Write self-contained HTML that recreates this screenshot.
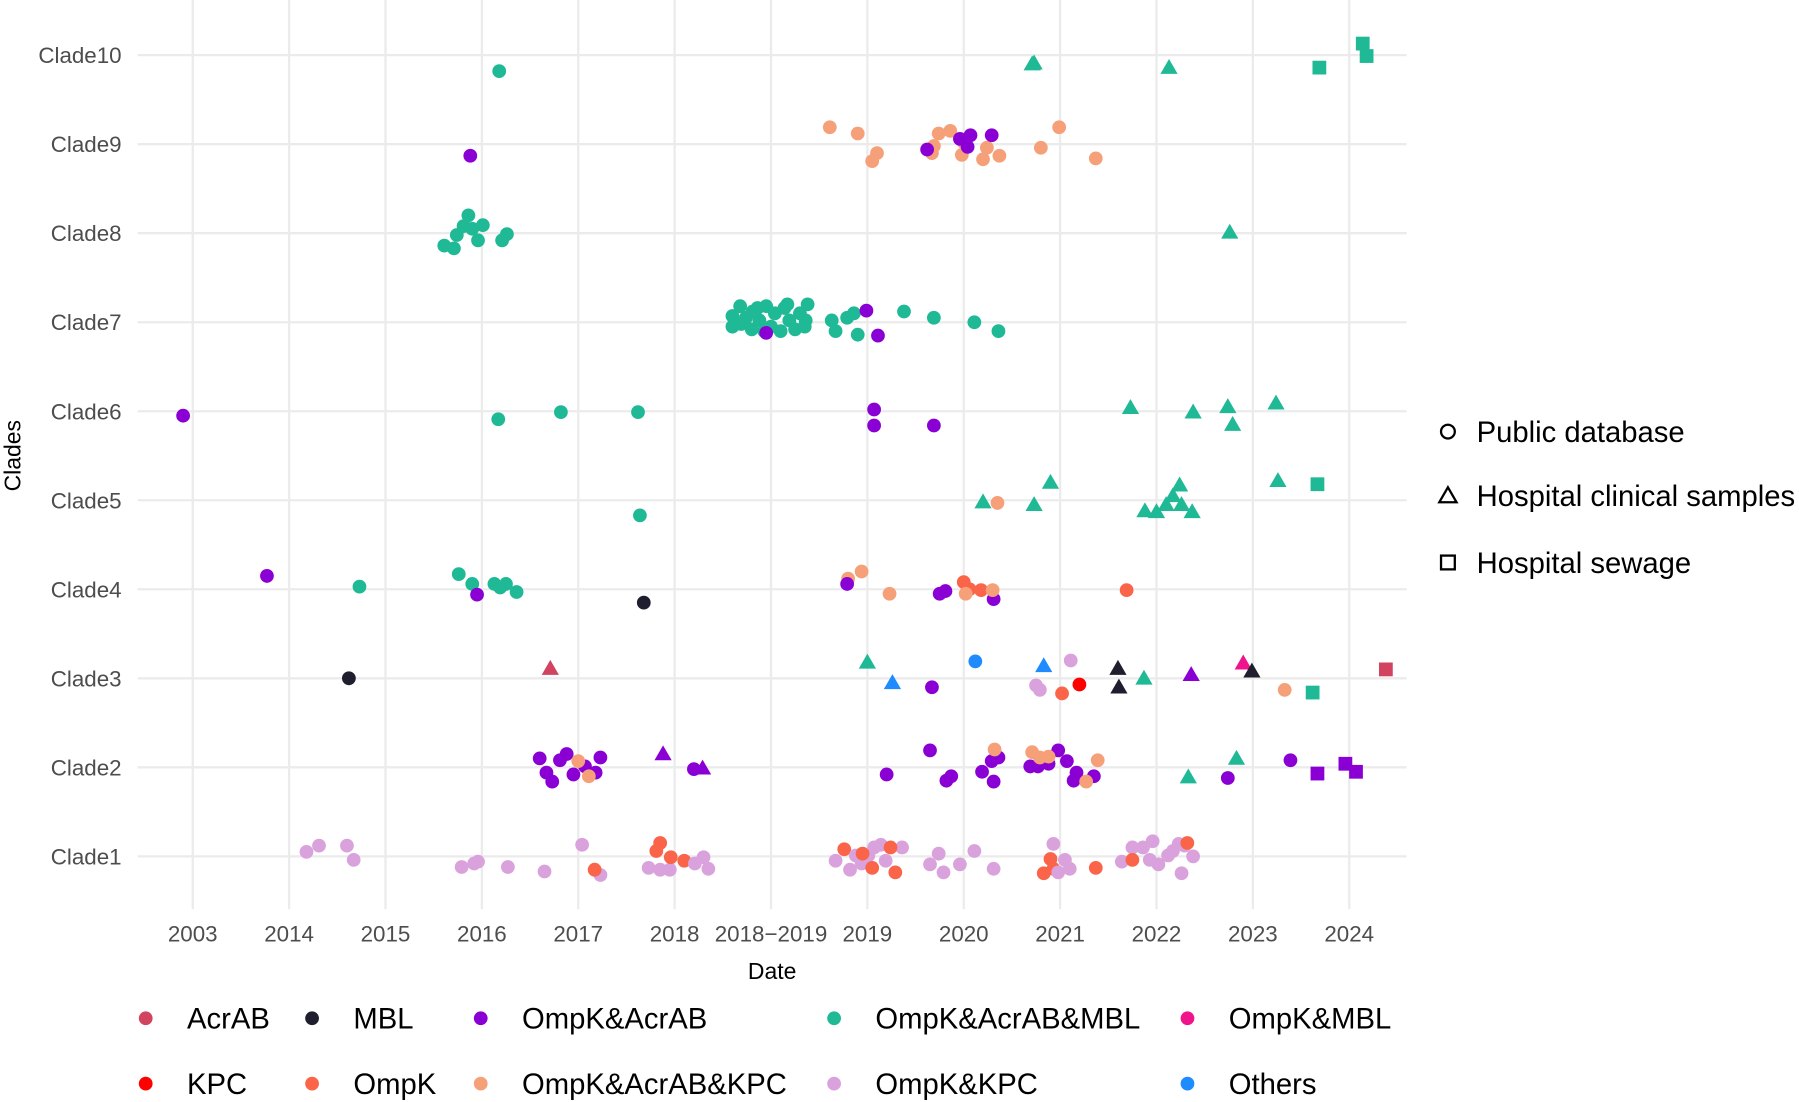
<!DOCTYPE html>
<html><head><meta charset="utf-8"><style>
html,body{margin:0;padding:0;background:#fff;}
svg{display:block;font-family:"Liberation Sans",Arial,sans-serif;}
</style></head><body>
<svg id="chart" width="1799" height="1102" viewBox="0 0 1568 960" preserveAspectRatio="none" xmlns="http://www.w3.org/2000/svg">
<g id="grid"></g>
<g id="axes"></g>
<g id="marks"></g>
<g id="legend"></g>
</svg>
<script>
const categories = ["2003","2014","2015","2016","2017","2018","2018\u22122019","2019","2020","2021","2022","2023","2024"];
const clades = ["Clade1","Clade2","Clade3","Clade4","Clade5","Clade6","Clade7","Clade8","Clade9","Clade10"];
const groupNames = ["AcrAB","MBL","OmpK&AcrAB","OmpK&AcrAB&MBL","OmpK&MBL","KPC","OmpK","OmpK&AcrAB&KPC","OmpK&KPC","Others"];
const groupCodes = ["A","M","P","T","D","K","O","S","L","B"];
const groupColors = ["#d1435f","#1e1e2e","#8a00d4","#1fb996","#f0148c","#ff0000","#fa6448","#f6a07a","#daa2dc","#1e8cff"];
const sourceNames = ["Public database","Hospital clinical samples","Hospital sewage"];
// points: [x (category index + jitter), y (clade + jitter), group code, shape c/t/s]
const points = [
[3.18,9.82,"T","c"],[8.71,9.90,"T","t"],[8.73,9.91,"T","t"],[10.13,9.86,"T","t"],[11.69,9.86,"T","s"],[12.14,10.13,"T","s"],[12.18,9.99,"T","s"],
[2.88,8.87,"P","c"],[6.61,9.19,"S","c"],[6.90,9.12,"S","c"],[7.05,8.81,"S","c"],[7.10,8.90,"S","c"],[7.69,8.98,"S","c"],[7.74,9.12,"S","c"],[7.86,9.15,"S","c"],[7.67,8.90,"S","c"],[7.98,8.88,"S","c"],[8.20,8.83,"S","c"],[8.24,8.96,"S","c"],[8.37,8.87,"S","c"],[8.80,8.96,"S","c"],[8.99,9.19,"S","c"],[9.37,8.84,"S","c"],[8.0,9.02,"S","c"],
[7.62,8.94,"P","c"],[7.96,9.06,"P","c"],[8.07,9.10,"P","c"],[8.29,9.10,"P","c"],[8.04,8.97,"P","c"],
[2.61,7.86,"T","c"],[2.71,7.83,"T","c"],[2.74,7.98,"T","c"],[2.81,8.08,"T","c"],[2.86,8.20,"T","c"],[2.90,8.05,"T","c"],[2.96,7.92,"T","c"],[3.01,8.09,"T","c"],[3.21,7.92,"T","c"],[3.26,7.99,"T","c"],[10.76,8.01,"T","t"],
[5.60,6.95,"T","c"],[5.60,7.07,"T","c"],[5.68,7.18,"T","c"],[5.74,7.05,"T","c"],[5.80,6.92,"T","c"],[5.86,7.16,"T","c"],[5.88,7.02,"T","c"],[5.95,7.18,"T","c"],[6.0,6.95,"T","c"],[6.04,7.10,"T","c"],[6.10,6.90,"T","c"],[6.14,7.16,"T","c"],[6.19,7.02,"T","c"],[6.25,6.92,"T","c"],[6.30,7.10,"T","c"],[6.35,6.95,"T","c"],[6.38,7.20,"T","c"],[5.69,6.98,"T","c"],[5.81,7.12,"T","c"],[5.93,6.90,"T","c"],[6.17,7.20,"T","c"],[6.36,7.02,"T","c"],[6.63,7.02,"T","c"],[6.67,6.90,"T","c"],[6.79,7.05,"T","c"],[6.86,7.10,"T","c"],[6.90,6.86,"T","c"],[7.38,7.12,"T","c"],[7.69,7.05,"T","c"],[8.11,7.00,"T","c"],[8.36,6.90,"T","c"],
[5.95,6.88,"P","c"],[6.99,7.13,"P","c"],[7.11,6.85,"P","c"],
[-0.10,5.95,"P","c"],[3.17,5.91,"T","c"],[3.82,5.99,"T","c"],[4.62,5.99,"T","c"],[7.07,6.02,"P","c"],[7.07,5.84,"P","c"],[7.69,5.84,"P","c"],[9.73,6.04,"T","t"],[10.38,5.99,"T","t"],[10.74,6.05,"T","t"],[10.79,5.85,"T","t"],[11.24,6.09,"T","t"],
[4.64,4.83,"T","c"],[8.20,4.98,"T","t"],[8.73,4.95,"T","t"],[8.90,5.20,"T","t"],[9.88,4.88,"T","t"],[10.0,4.87,"T","t"],[10.10,4.95,"T","t"],[10.17,5.05,"T","t"],[10.24,5.17,"T","t"],[10.26,4.95,"T","t"],[10.37,4.87,"T","t"],[11.26,5.22,"T","t"],[8.35,4.97,"S","c"],[11.67,5.18,"T","s"],
[0.77,4.15,"P","c"],[1.73,4.03,"T","c"],[2.76,4.17,"T","c"],[2.90,4.06,"T","c"],[3.13,4.06,"T","c"],[3.25,4.06,"T","c"],[3.36,3.97,"T","c"],[3.19,4.02,"T","c"],[2.95,3.94,"P","c"],[4.68,3.85,"M","c"],[6.80,4.12,"S","c"],[6.94,4.20,"S","c"],[7.23,3.95,"S","c"],[6.79,4.06,"P","c"],[7.75,3.95,"P","c"],[7.81,3.98,"P","c"],[8.31,3.89,"P","c"],[8.0,4.08,"O","c"],[8.06,4.0,"O","c"],[8.18,3.99,"O","c"],[8.02,3.95,"S","c"],[8.30,3.99,"S","c"],[9.69,3.99,"O","c"],
[1.62,3.0,"M","c"],[3.71,3.11,"A","t"],[7.0,3.18,"T","t"],[7.26,2.95,"B","t"],[7.67,2.90,"P","c"],[8.12,3.19,"B","c"],[8.75,2.92,"L","c"],[8.79,2.87,"L","c"],[8.83,3.14,"B","t"],[9.11,3.20,"L","c"],[9.02,2.83,"O","c"],[9.20,2.93,"K","c"],[9.60,3.11,"M","t"],[9.61,2.90,"M","t"],[9.87,3.0,"T","t"],[10.36,3.04,"P","t"],[10.90,3.17,"D","t"],[10.99,3.08,"M","t"],[11.33,2.87,"S","c"],[11.62,2.84,"T","s"],[12.38,3.10,"A","s"],
[3.60,2.10,"P","c"],[3.67,1.94,"P","c"],[3.73,1.84,"P","c"],[3.81,2.08,"P","c"],[3.88,2.15,"P","c"],[3.95,1.92,"P","c"],[4.07,2.01,"P","c"],[4.18,1.94,"P","c"],[4.23,2.11,"P","c"],[4.0,2.07,"S","c"],[4.11,1.90,"S","c"],[4.88,2.15,"P","t"],[5.20,1.98,"P","c"],[5.29,1.99,"P","t"],[7.20,1.92,"P","c"],[7.65,2.19,"P","c"],[7.82,1.85,"P","c"],[7.87,1.90,"P","c"],[8.19,1.95,"P","c"],[8.29,2.07,"P","c"],[8.31,1.84,"P","c"],[8.36,2.11,"P","c"],[8.32,2.20,"S","c"],[8.69,2.01,"P","c"],[8.77,2.01,"P","c"],[8.88,2.04,"P","c"],[8.98,2.19,"P","c"],[9.07,2.07,"P","c"],[9.14,1.85,"P","c"],[9.17,1.94,"P","c"],[9.35,1.90,"P","c"],[8.71,2.17,"S","c"],[8.79,2.11,"S","c"],[8.88,2.12,"S","c"],[9.27,1.84,"S","c"],[9.39,2.08,"S","c"],[10.33,1.89,"T","t"],[10.83,2.10,"T","t"],[10.74,1.88,"P","c"],[11.39,2.08,"P","c"],[11.67,1.93,"P","s"],[11.96,2.04,"P","s"],[12.07,1.95,"P","s"],
[1.18,1.05,"L","c"],[1.31,1.12,"L","c"],[1.60,1.12,"L","c"],[1.67,0.96,"L","c"],[2.79,0.88,"L","c"],[2.92,0.92,"L","c"],[2.96,0.94,"L","c"],[3.27,0.88,"L","c"],[3.65,0.83,"L","c"],[4.04,1.13,"L","c"],[4.23,0.79,"L","c"],[4.17,0.85,"O","c"],[4.73,0.87,"L","c"],[4.85,0.85,"L","c"],[4.95,0.85,"L","c"],[4.81,1.06,"O","c"],[4.85,1.15,"O","c"],[4.96,0.99,"O","c"],[5.10,0.95,"O","c"],[5.21,0.92,"L","c"],[5.30,0.99,"L","c"],[5.35,0.86,"L","c"],
[6.76,1.08,"O","c"],[6.67,0.95,"L","c"],[6.82,0.85,"L","c"],[6.88,1.01,"L","c"],[6.94,0.92,"L","c"],[7.01,1.01,"L","c"],[7.07,1.10,"L","c"],[7.14,1.13,"L","c"],[7.19,0.95,"L","c"],[7.36,1.10,"L","c"],[6.95,1.03,"O","c"],[7.05,0.87,"O","c"],[7.24,1.10,"O","c"],[7.29,0.82,"O","c"],[7.65,0.91,"L","c"],[7.74,1.03,"L","c"],[7.79,0.82,"L","c"],[7.96,0.91,"L","c"],[8.11,1.06,"L","c"],[8.31,0.86,"L","c"],
[8.83,0.81,"O","c"],[8.90,0.97,"O","c"],[8.93,0.86,"O","c"],[8.93,1.14,"L","c"],[8.98,0.82,"L","c"],[9.05,0.96,"L","c"],[9.10,0.86,"L","c"],[9.37,0.87,"O","c"],[9.64,0.94,"L","c"],[9.75,1.10,"L","c"],[9.75,0.96,"O","c"],[9.86,1.10,"L","c"],[9.93,0.96,"L","c"],[9.96,1.17,"L","c"],[10.02,0.91,"L","c"],[10.12,1.01,"L","c"],[10.17,1.06,"L","c"],[10.23,1.14,"L","c"],[10.26,0.81,"L","c"],[10.29,1.12,"L","c"],[10.38,1.0,"L","c"],[10.32,1.15,"O","c"]
];

const NS="http://www.w3.org/2000/svg";
function xScale(v){return 168+84*v;}
function yScale(v){return 746-77.55*(v-1);}
function mk(tag,attrs,parent){const e=document.createElementNS(NS,tag);for(const k in attrs)e.setAttribute(k,attrs[k]);parent.appendChild(e);return e;}
function shape(parent,s,cx,cy,fill,stroke,sw){
  let e;
  if(s==="c") e=mk("circle",{cx:cx,cy:cy,r:6,fill:fill,stroke:stroke,"stroke-width":sw},parent);
  else if(s==="t") e=mk("polygon",{points:`${cx},${cy-7.5} ${cx-7.5},${cy+5.5} ${cx+7.5},${cy+5.5}`,fill:fill,stroke:stroke,"stroke-width":sw},parent);
  else e=mk("rect",{x:cx-6,y:cy-6,width:12,height:12,fill:fill,stroke:stroke,"stroke-width":sw},parent);
  return e;
}
const grid=document.getElementById("grid"),axes=document.getElementById("axes"),marks=document.getElementById("marks"),legend=document.getElementById("legend");
categories.forEach((c,i)=>{
  const x=xScale(i);
  const l=mk("line",{x1:x,x2:x,y1:0,y2:792,stroke:"#ebebeb","stroke-width":2},grid);
  
  
  const t=mk("text",{x:x,y:820,"text-anchor":"middle","font-size":19.5,fill:"#4d4d4d"},axes);
  t.textContent=c;
  
  
});
clades.forEach((c,i)=>{
  const y=yScale(i+1);
  const l=mk("line",{x1:120,x2:1226,y1:y,y2:y,stroke:"#ebebeb","stroke-width":2},grid);
  
  
  const t=mk("text",{x:106,y:y+7,"text-anchor":"end","font-size":19.5,fill:"#4d4d4d"},axes);
  t.textContent=c;
  
  
});
const xt=mk("text",{x:673,y:853,"text-anchor":"middle","font-size":20,fill:"#000"},axes);
xt.textContent="Date";


const yt=mk("text",{x:0,y:0,transform:"translate(18,397) rotate(-90)","text-anchor":"middle","font-size":20,fill:"#000"},axes);
yt.textContent="Clades";



points.forEach(p=>{
  const col=groupColors[groupCodes.indexOf(p[2])];
  const e=shape(marks,p[3],xScale(p[0]),yScale(p[1]),col,"none",0);
  
  
});

const shapeKeys=["c","t","s"],shapeY=[376,432,490];
sourceNames.forEach((n,i)=>{
  const e=shape(legend,shapeKeys[i],1262,shapeY[i],"none","#000",2);
  
  
  const t=mk("text",{x:1287,y:shapeY[i]+9,"font-size":25.5,fill:"#000"},legend);
  t.textContent=n;
  
  
});
const colX=[127,272,419,727,1035];
groupNames.forEach((n,i)=>{
  const cx=colX[i%5],cy=i<5?887:944;
  const e=mk("circle",{cx:cx,cy:cy,r:6,fill:groupColors[i]},legend);
  
  
  const t=mk("text",{x:cx+36,y:cy+9,"font-size":25.5,fill:"#000"},legend);
  t.textContent=n;
  
  
});
</script>
</body></html>
